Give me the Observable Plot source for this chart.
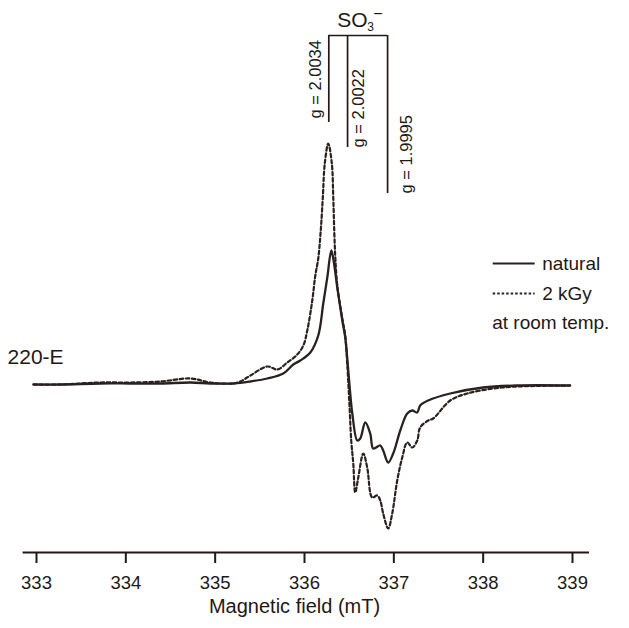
<!DOCTYPE html>
<html>
<head>
<meta charset="utf-8">
<script src="https://cdn.jsdelivr.net/npm/d3@7"></script>
<script src="https://cdn.jsdelivr.net/npm/@observablehq/plot@0.6"></script>
<style>
  html, body { margin: 0; padding: 0; background: #fff; }
  #chart { width: 629px; height: 628px; }
</style>
</head>
<body>
<div id="chart"></div>
<script>
// ---- data ----
const fieldNatural = [332.966,333.268,333.716,334.051,334.387,334.723,334.946,335.204,335.394,335.584,335.763,335.875,335.953,336.065,336.154,336.210,336.255,336.300,336.322,336.367,336.423,336.456,336.490,336.512,336.535,336.591,336.624,336.680,336.736,336.770,336.848,336.881,336.937,336.993,337.072,337.150,337.206,337.262,337.295,337.385,337.631,338.000,338.380,338.973];
const signalNatural = [0,0,1,1,1,2,1,1,3,6,11,20,24,32,49,81,107,134,126,97,64,47,14,-9,-29,-56,-54,-38,-49,-64,-61,-66,-78,-69,-46,-29,-26,-28,-21,-16,-9,-3,-1,-1];

const field2kGy = [332.966,333.268,333.716,334.051,334.387,334.723,334.946,335.204,335.282,335.394,335.584,335.696,335.808,335.919,335.987,336.031,336.087,336.121,336.154,336.182,336.205,336.227,336.266,336.306,336.322,336.333,336.345,336.367,336.423,336.456,336.479,336.501,336.523,336.546,336.568,336.602,336.658,336.702,336.758,336.814,336.848,336.881,336.937,336.982,337.038,337.094,337.150,337.206,337.262,337.295,337.385,337.441,337.631,337.821,338.112,338.380,338.973];
const signal2kGy = [0,0,2,2,3,6,2,1,3,9,18,15,22,30,39,54,84,109,126,154,187,221,241,221,187,154,127,99,66,49,20,-16,-56,-79,-108,-93,-69,-83,-113,-111,-116,-129,-144,-129,-96,-73,-58,-63,-56,-43,-36,-34,-16,-9,-4,-2,-1];

const tickValues = [333, 334, 335, 336, 337, 338, 339];
const axisExtent = [332.85, 339.19];

const gLabels = ["g = 2.0034", "g = 2.0022", "g = 1.9995"];
const gFields = [336.272, 336.482, 336.93];
const gLineBottoms = [262, 237, 191];
const bracketLevel = 349;
const gLabelFields = [336.121, 336.607, 337.139];
const gLabelBottoms = [266, 237, 191];

const legendLabels = ["natural", "2 kGy"];
const legendLevels = [121, 91];
const legendLineX = [338.112, 338.582];
const legendTextX = 338.66;
const noteText = "at room temp.";
const sampleText = "220-E";
const axisTitle = "Magnetic field (mT)";

// ---- chart ----
const ink = "#231815";
const lineInk = "#2a201e";
const font = "'Liberation Sans', Arial, Helvetica, sans-serif";

const natural = fieldNatural.map((x, i) => ({x, y: signalNatural[i]}));
const irradiated = field2kGy.map((x, i) => ({x, y: signal2kGy[i]}));
const gData = gLabels.map((label, i) => ({label, x: gFields[i], y2: gLineBottoms[i], lx: gLabelFields[i], ly: gLabelBottoms[i]}));

const chart = Plot.plot({
  width: 629,
  height: 628,
  marginLeft: 36,
  marginRight: 57,
  marginTop: 0,
  marginBottom: 76,
  x: {domain: [333, 339], axis: null},
  y: {domain: [-168, 384], axis: null},
  style: {fontFamily: font, color: ink, background: "#fff", overflow: "visible"},
  marks: [
    // axis line & ticks
    Plot.ruleY([-168], {x1: axisExtent[0], x2: axisExtent[1], stroke: ink, strokeWidth: 2}),
    Plot.axisX({ticks: tickValues, tickSize: 11, tickPadding: 12, fontSize: 18.5, strokeWidth: 2, stroke: ink, fill: ink, tickFormat: d => String(d), label: null}),
    Plot.text([axisTitle], {frameAnchor: "bottom", dx: -10, dy: 60, fontSize: 20, fill: ink}),

    // spectra
    Plot.line(irradiated, {x: "x", y: "y", stroke: lineInk, strokeWidth: 2.2, strokeDasharray: "3.5,2.6", curve: "catmull-rom"}),
    Plot.line(natural, {x: "x", y: "y", stroke: lineInk, strokeWidth: 2.3, curve: "catmull-rom"}),

    // g-value markers
    Plot.ruleX(gData, {x: "x", y1: "y2", y2: bracketLevel, stroke: ink, strokeWidth: 1.7}),
    Plot.ruleY([bracketLevel], {x1: gFields[0], x2: gFields[2], stroke: ink, strokeWidth: 1.7}),
    Plot.text(gData, {x: "lx", y: "ly", text: "label", rotate: -90, textAnchor: "start", fontSize: 16.5, fill: ink, style: "letter-spacing:0.5px"}),
    Plot.text(["SO"], {x: 336.367, y: 364.5, textAnchor: "start", fontSize: 21, fill: ink}),
    Plot.text(["3"], {x: 336.702, y: 357.5, textAnchor: "start", fontSize: 12, fill: ink}),
    Plot.text(["−"], {x: 336.77, y: 370.5, textAnchor: "start", fontSize: 16, fill: ink}),

    // legend
    Plot.ruleY([legendLevels[0]], {x1: legendLineX[0], x2: legendLineX[1], stroke: lineInk, strokeWidth: 2}),
    Plot.ruleY([legendLevels[1]], {x1: legendLineX[0], x2: legendLineX[1], stroke: lineInk, strokeWidth: 2, strokeDasharray: "2.5,2"}),
    Plot.text(legendLabels, {x: legendTextX, y: (d, i) => legendLevels[i], textAnchor: "start", fontSize: 19, fill: ink}),
    Plot.text([noteText], {x: 338.101, y: 62, textAnchor: "start", fontSize: 19, fill: ink}),

    // sample label
    Plot.text([sampleText], {x: 332.676, y: 27, textAnchor: "start", fontSize: 21, fill: ink})
  ]
});
document.getElementById("chart").appendChild(chart);
</script>
</body>
</html>
